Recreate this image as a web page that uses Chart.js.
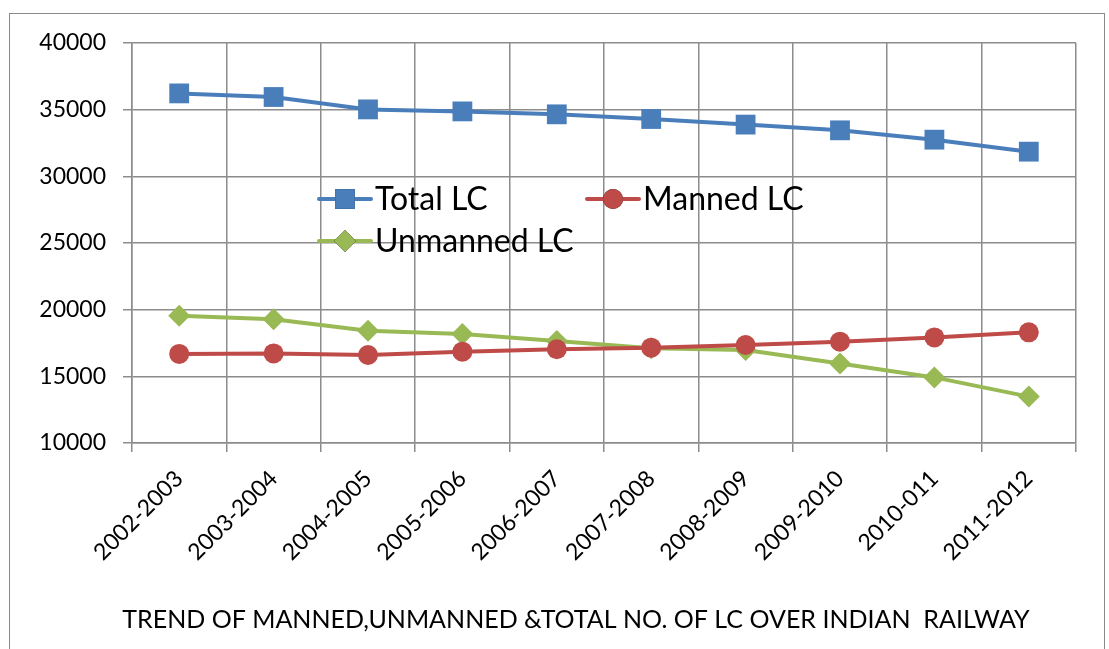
<!DOCTYPE html>
<html>
<head>
<meta charset="utf-8">
<script src="https://cdn.jsdelivr.net/npm/chart.js@4.4.0/dist/chart.umd.min.js"></script>
<style>
  html, body { margin: 0; padding: 0; background: #fff; }
  #wrap { position: relative; width: 1109px; height: 649px; }
</style>
</head>
<body>
<div id="wrap"><canvas id="myChart" width="1109" height="649"></canvas></div>
<script>
// categories and series
const years = ['2002-2003', '2003-2004', '2004-2005', '2005-2006', '2006-2007',
               '2007-2008', '2008-2009', '2009-2010', '2010-011', '2011-2012'];
const totalLC = [36220, 35950, 35020, 34870, 34650, 34300, 33880, 33450, 32750, 31850];
const mannedLC = [16680, 16720, 16600, 16850, 17030, 17150, 17350, 17600, 17920, 18300];
const unmannedLC = [19550, 19280, 18420, 18170, 17650, 17100, 16970, 15970, 14920, 13480];
const yTicks = [10000, 15000, 20000, 25000, 30000, 35000, 40000];
const chartTitle = 'TREND OF MANNED,UNMANNED &TOTAL NO. OF LC OVER INDIAN  RAILWAY';

const FONT = 'Lato, "Open Sans", sans-serif';

// outer frame like the office chart box, plus the caption under the axis
const framePlugin = {
    id: 'frame',
    beforeDraw(chart) {
        const ctx = chart.ctx;
        ctx.save();
        ctx.strokeStyle = '#8a8a8a';
        ctx.lineWidth = 1;
        ctx.strokeRect(9.5, 13.5, 1095, 700);
        ctx.restore();
    },
    afterDraw(chart) {
        const ctx = chart.ctx;
        ctx.save();
        ctx.fillStyle = '#000';
        ctx.font = '25px ' + FONT;
        ctx.textAlign = 'center';
        ctx.textBaseline = 'middle';
        ctx.fillText(chartTitle, 576, 620);
        ctx.restore();
    }
};

// legend drawn inside the plot area, two columns
const innerLegend = {
    id: 'innerLegend',
    afterDatasetsDraw(chart) {
        const ctx = chart.ctx;
        const a = chart.chartArea;
        const slots = [
            { x: a.left + 187, y: a.top + 156 },
            { x: a.left + 455, y: a.top + 156 },
            { x: a.left + 187, y: a.top + 198 }
        ];
        ctx.save();
        chart.data.datasets.forEach((ds, i) => {
            const s = slots[i];
            ctx.strokeStyle = ds.borderColor;
            ctx.lineWidth = 4;
            ctx.lineCap = 'round';
            ctx.beginPath();
            ctx.moveTo(s.x, s.y);
            ctx.lineTo(s.x + 52, s.y);
            ctx.stroke();
            Chart.helpers.drawPoint(ctx, {
                pointStyle: ds.pointStyle,
                radius: ds.pointRadius,
                borderWidth: 0
            }, s.x + 26, s.y);
            ctx.fillStyle = ds.backgroundColor;
            ctx.fill();
            ctx.fillStyle = '#000';
            ctx.font = '32px ' + FONT;
            ctx.textBaseline = 'middle';
            ctx.textAlign = 'left';
            ctx.fillText(ds.label, s.x + 56, s.y + 1);
        });
        ctx.restore();
    }
};

new Chart(document.getElementById('myChart').getContext('2d'), {
    type: 'line',
    data: {
        labels: years,
        datasets: [{
            label: 'Total LC',
            data: totalLC,
            borderColor: '#4A7EBB',
            backgroundColor: '#4A7EBB',
            borderWidth: 4,
            pointStyle: 'rect',
            pointRadius: 14,
            pointBorderWidth: 0
        }, {
            label: 'Manned LC',
            data: mannedLC,
            borderColor: '#BE4B48',
            backgroundColor: '#BE4B48',
            borderWidth: 4,
            pointStyle: 'circle',
            pointRadius: 10,
            pointBorderWidth: 0
        }, {
            label: 'Unmanned LC',
            data: unmannedLC,
            borderColor: '#98B954',
            backgroundColor: '#98B954',
            borderWidth: 4,
            pointStyle: 'rectRot',
            pointRadius: 11,
            pointBorderWidth: 0
        }]
    },
    options: {
        responsive: false,
        animation: false,
        layout: { padding: { top: 43, right: 33, left: 0, bottom: 0 } },
        plugins: {
            legend: { display: false },
            tooltip: { enabled: false },
            title: { display: false }
        },
        scales: {
            x: {
                offset: true,
                grid: { color: '#8c8c8c', lineWidth: 1.5, tickLength: 9, offset: true },
                border: { color: '#8c8c8c', width: 1.5 },
                ticks: {
                    color: '#000',
                    font: { family: FONT, size: 23 },
                    minRotation: 45,
                    maxRotation: 45,
                    padding: 13
                },
                afterFit(scale) { scale.height = 206; }
            },
            y: {
                min: 10000,
                max: 40000,
                afterBuildTicks(scale) { scale.ticks = yTicks.map(v => ({ value: v })); },
                grid: { color: '#8c8c8c', lineWidth: 1.5, tickLength: 9 },
                border: { color: '#8c8c8c', width: 1.5 },
                ticks: {
                    color: '#000',
                    font: { family: FONT, size: 23 },
                    padding: 17,
                    callback: v => String(v)
                },
                afterFit(scale) { scale.width = 132; }
            }
        }
    },
    plugins: [framePlugin, innerLegend]
});
</script>
</body>
</html>
